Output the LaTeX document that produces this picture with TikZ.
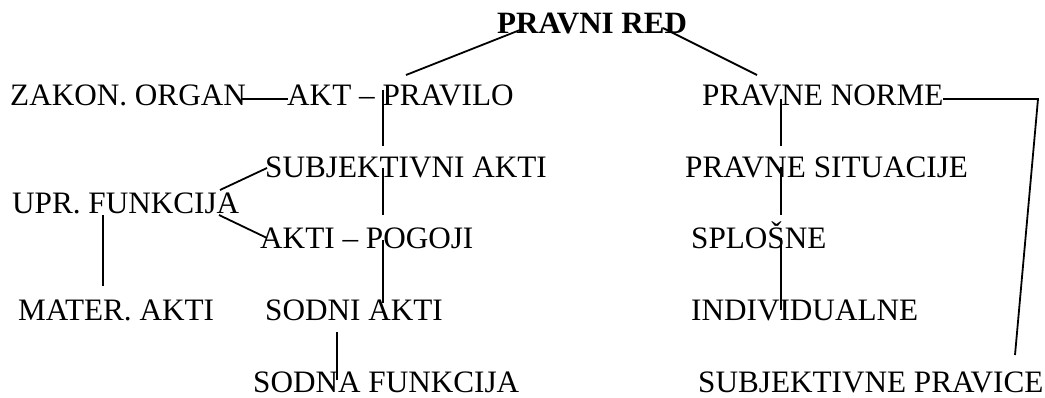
\documentclass[tikz,border=0pt]{standalone}
\usepackage{fontspec}
\setmainfont{Liberation Serif}
\usetikzlibrary{calc}
\begin{document}
\begin{tikzpicture}[x=1pt,y=-1pt,
  lbl/.style={anchor=base west,inner sep=0pt,font=\fontsize{31.2}{36}\selectfont},
  conn/.style={line width=1.8pt,black}]
\useasboundingbox (0,0) rectangle (1045,397);
% text nodes
\node[lbl,font=\fontsize{31}{36}\selectfont\bfseries] (red) at (497,33) {PRAVNI RED};
\node[lbl] (zakon) at (10,105) {ZAKON. ORGAN};
\node[lbl] (akt) at (287,105) {AKT – PRAVILO};
\node[lbl] (norme) at (702,105) {PRAVNE NORME};
\node[lbl] (subj) at (265,177) {SUBJEKTIVNI AKTI};
\node[lbl] (sit) at (685,177) {PRAVNE SITUACIJE};
\node[lbl] (upr) at (12,213) {UPR. FUNKCIJA};
\node[lbl] (pogoji) at (260,248) {AKTI – POGOJI};
\node[lbl] (splosne) at (691,248) {SPLOŠNE};
\node[lbl] (mater) at (18,320) {MATER. AKTI};
\node[lbl] (sodni) at (265,320) {SODNI AKTI};
\node[lbl] (indiv) at (691,320) {INDIVIDUALNE};
\node[lbl] (sodna) at (253,392) {SODNA FUNKCIJA};
\node[lbl] (subpr) at (698,392) {SUBJEKTIVNE PRAVICE};
\coordinate (corner) at (1038,99);
% connectors
\draw[conn] ($(red.base west)+(23,-3)$) -- ($(akt.base west)+(119,-30)$);
\draw[conn] ($(red.base west)+(166,-5)$) -- ($(norme.base west)+(55,-30)$);
\draw[conn] ($(zakon.base west)+(232,-6)$) -- ($(akt.base west)+(1,-6)$);
\draw[conn] ($(akt.base west)+(96,-15)$) -- ($(subj.base west)+(118,-31)$);
\draw[conn] ($(subj.base west)+(118,-9)$) -- ($(pogoji.base west)+(123,-33)$);
\draw[conn] ($(pogoji.base west)+(123,-8)$) -- ($(sodni.base west)+(118,-17)$);
\draw[conn] ($(upr.base west)+(208,-23)$) -- ($(subj.base west)+(2,-9)$);
\draw[conn] ($(upr.base west)+(207,2)$) -- ($(pogoji.base west)+(7,-10)$);
\draw[conn] ($(upr.base west)+(91,2)$) -- ($(mater.base west)+(85,-34)$);
\draw[conn] ($(sodni.base west)+(72,12)$) -- ($(sodna.base west)+(84,-12)$);
\draw[conn] ($(norme.base west)+(79,-6)$) -- ($(sit.base west)+(96,-31)$);
\draw[conn] ($(sit.base west)+(96,-10)$) -- ($(splosne.base west)+(90,-33)$);
\draw[conn] ($(splosne.base west)+(90,-10)$) -- ($(indiv.base west)+(90,-10)$);
\draw[conn] ($(norme.base west)+(241,-6)$) -- (corner) -- ($(subpr.base west)+(317,-37)$);
\end{tikzpicture}
\end{document}
